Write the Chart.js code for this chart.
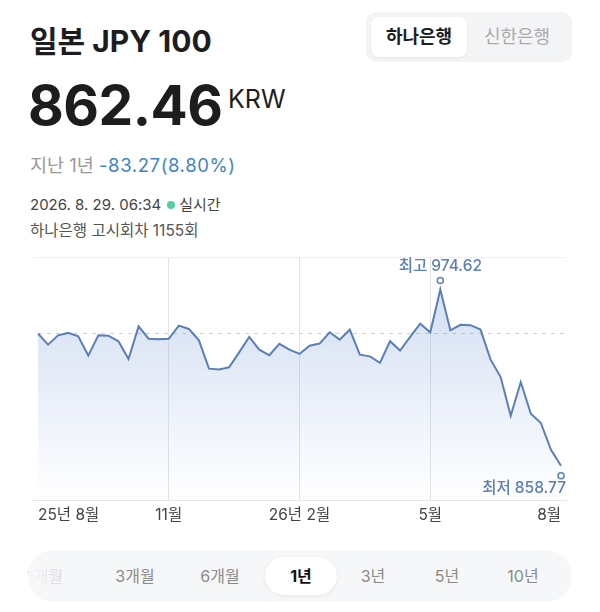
<!DOCTYPE html>
<html>
<head>
<meta charset="utf-8">
<script src="https://cdn.jsdelivr.net/npm/chart.js@4"></script>
<style>
  body { margin: 0; background: #fff; font-family: "Inter", "Noto Sans CJK KR", sans-serif; }
  .page { position: relative; width: 600px; height: 612px; overflow: hidden; }
  .abs { position: absolute; white-space: nowrap; }
  .title { left: 30px; top: 17px; font-size: 30px; font-weight: 700; color: #1d1d1f; }
  .toggle { left: 366px; top: 12px; width: 206px; height: 50px; background: #f3f4f6; border-radius: 10px; }
  .toggle .on { position: absolute; left: 5px; top: 5px; width: 96px; height: 40px; background: #fff; border-radius: 8px;
    box-shadow: 0 1px 3px rgba(0,0,0,0.06); font-size: 18px; font-weight: 700; color: #1d1d1f; text-align: center; line-height: 40px; }
  .toggle .off { position: absolute; left: 101px; top: 5px; width: 100px; height: 40px; font-size: 18px; color: #aaa; text-align: center; line-height: 40px; }
  .price { left: 28px; top: 72px; font-size: 55px; font-weight: 700; color: #1d1d1f; letter-spacing: -0.5px; }
  .unit { left: 228px; top: 84px; font-size: 25px; color: #1d1d1f; }
  .change { left: 30px; top: 151px; font-size: 18.5px; color: #999; }
  .change span { color: #3d85c6; letter-spacing: 0.6px; }
  .stamp { left: 30px; top: 193px; font-size: 15px; color: #444; }
  .dot { display: inline-block; width: 8px; height: 8px; border-radius: 50%; background: #4fd1a5; margin: 0 4px 1px 6px; }
  .round { left: 30px; top: 218px; font-size: 15.5px; color: #555; }
  .chartbox { left: 32px; top: 250px; width: 535px; height: 281px; }
  .tabs { left: 28px; top: 550px; width: 544px; height: 52px; background: #f6f7f8; border-radius: 26px; }
  .tab { position: absolute; top: 0; height: 52px; line-height: 52px; font-size: 16px; color: #8a8a8a; transform: translateX(-50%); }
  .tab.sel { top: 7px; height: 38px; line-height: 38px; width: 72px; text-align: center; background: #fff; border-radius: 19px;
    box-shadow: 0 1px 4px rgba(0,0,0,0.07); color: #111; font-weight: 700; }
  .fade { position: absolute; left: 0; top: 0; width: 50px; height: 52px; border-radius: 26px 0 0 26px;
    background: linear-gradient(to right, rgba(246,247,248,1), rgba(246,247,248,0.6)); }
</style>
</head>
<body>
<div class="page">
  <div class="abs title">일본 JPY 100</div>
  <div class="abs toggle"><div class="on">하나은행</div><div class="off">신한은행</div></div>
  <div class="abs price">862.46</div>
  <div class="abs unit">KRW</div>
  <div class="abs change">지난 1년 <span>-83.27(8.80%)</span></div>
  <div class="abs stamp">2026. 8. 29. 06:34<span class="dot"></span>실시간</div>
  <div class="abs round">하나은행 고시회차 1155회</div>
  <div class="abs chartbox"><canvas id="rateChart"></canvas></div>
  <div class="abs tabs">
    <div class="tab" style="left:17px">1개월</div>
    <div class="fade"></div>
    <div class="tab" style="left:107px">3개월</div>
    <div class="tab" style="left:192px">6개월</div>
    <div class="tab sel" style="left:273px">1년</div>
    <div class="tab" style="left:345px">3년</div>
    <div class="tab" style="left:419px">5년</div>
    <div class="tab" style="left:495px">10년</div>
  </div>
</div>
<script>
// 주간 환율 (원 / 100엔), 25년 8월 ~ 26년 8월
var rates = [
  945.73, 938.4, 944.5, 946.1, 943.9, 931.2, 944.5, 944.3, 940.6, 929.0,
  950.4, 942.3, 941.9, 942.2, 950.9, 948.7, 941.2, 922.6, 922.1, 923.5,
  933.3, 943.5, 935.1, 931.4, 938.9, 935.1, 932.3, 937.7, 939.1, 946.5,
  941.7, 948.3, 931.8, 930.7, 926.4, 940.6, 934.5, 943.5, 952.2, 946.5,
  974.62, 947.8, 951.4, 951.2, 948.3, 928.5, 917.1, 891.7, 913.8, 893.0,
  886.9, 869.3, 858.77
];
var startRate = 945.73;
var tickWeeks = [0, 13, 26, 39, 52];
var tickLabels = ["25년 8월", "11월", "26년 2월", "5월", "8월"];
var yRange = [836, 996];

var lineColor = "#5a7fb8";
var font = "'Inter', 'Noto Sans CJK KR', sans-serif";

var points = rates.map(function (v, i) { return { x: i, y: v }; });
var baseLine = [{ x: 0, y: startRate }, { x: rates.length - 0.5, y: startRate }];

var extremes = {
  id: "extremes",
  afterDatasetsDraw: function (chart) {
    var ctx = chart.ctx, xs = chart.scales.x, ys = chart.scales.y;
    var hi = rates.indexOf(Math.max.apply(null, rates));
    var lo = rates.indexOf(Math.min.apply(null, rates));
    ctx.save();
    ctx.strokeStyle = lineColor;
    ctx.fillStyle = lineColor;
    ctx.lineWidth = 1.5;
    ctx.font = "500 15.5px " + font;
    ctx.textBaseline = "middle";

    var hx = xs.getPixelForValue(hi), hy = ys.getPixelForValue(rates[hi]);
    ctx.beginPath(); ctx.arc(hx, hy - 9, 3, 0, Math.PI * 2); ctx.stroke();
    ctx.textAlign = "center";
    ctx.fillText("최고 " + rates[hi].toFixed(2), hx, hy - 23);

    var lx = xs.getPixelForValue(lo), ly = ys.getPixelForValue(rates[lo]);
    ctx.beginPath(); ctx.arc(lx, ly + 10, 3, 0, Math.PI * 2); ctx.stroke();
    ctx.textAlign = "right";
    ctx.fillText("최저 " + rates[lo].toFixed(2), chart.chartArea.right, ly + 23);
    ctx.restore();
  }
};

var ctx = document.getElementById("rateChart").getContext("2d");
var grafico = new Chart(ctx, {
  type: "line",
  data: {
    datasets: [
      {
        data: points,
        borderColor: lineColor,
        borderWidth: 2,
        pointRadius: 0,
        tension: 0,
        fill: "start",
        backgroundColor: function (c) {
          var area = c.chart.chartArea;
          if (!area) return "rgba(90,127,184,0.15)";
          var g = c.chart.ctx.createLinearGradient(0, area.top + 60, 0, area.bottom);
          g.addColorStop(0, "rgba(120,155,215,0.28)");
          g.addColorStop(1, "rgba(120,155,215,0.0)");
          return g;
        }
      },
      {
        data: baseLine,
        borderColor: "#cfcfcf",
        borderWidth: 1,
        borderDash: [4, 5],
        pointRadius: 0,
        fill: false
      }
    ]
  },
  options: {
    responsive: true,
    maintainAspectRatio: false,
    animation: false,
    layout: { padding: { top: 7 } },
    plugins: { legend: { display: false }, tooltip: { enabled: false } },
    scales: {
      x: {
        type: "linear",
        min: -0.5,
        max: rates.length - 0.5,
        afterBuildTicks: function (axis) {
          axis.ticks = tickWeeks.map(function (w) { return { value: w }; });
        },
        ticks: {
          align: "inner",
          maxRotation: 0,
          padding: 6,
          color: "#444",
          font: { family: font, size: 15.5 },
          callback: function (v) { return tickLabels[tickWeeks.indexOf(v)]; }
        },
        grid: {
          drawTicks: false,
          color: function (c) {
            var v = c.tick && c.tick.value;
            return (v === 0 || v === 52) ? "rgba(0,0,0,0)" : "#e4e4e4";
          }
        },
        border: { display: true, color: "#e6e6e6" }
      },
      y: {
        min: yRange[0],
        max: yRange[1],
        afterBuildTicks: function (axis) {
          axis.ticks = yRange.map(function (v) { return { value: v }; });
        },
        ticks: { display: false },
        grid: { drawTicks: false, color: "#f0f0f0" },
        border: { display: false }
      }
    }
  },
  plugins: [extremes]
});
</script>
</body>
</html>
